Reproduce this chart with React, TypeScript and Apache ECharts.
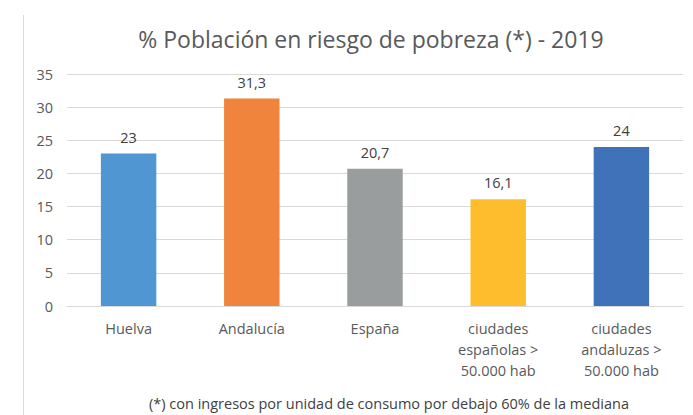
import React, { useEffect, useRef } from "react";
import * as echarts from "echarts";

const categories = [
  "Huelva",
  "Andalucía",
  "España",
  "ciudades\nespañolas >\n50.000 hab",
  "ciudades\nandaluzas >\n50.000 hab",
];
const values = [23, 31.3, 20.7, 16.1, 24];
const colors = ["#5096d2", "#f0843c", "#9a9d9d", "#fdbd2c", "#3f72b8"];
const yTicks = { min: 0, max: 35, interval: 5 };
const titleText = "% Población en riesgo de pobreza (*) - 2019";
const footnote = "(*) con ingresos por unidad de consumo por debajo 60% de la mediana";

const FONT = "'Open Sans', 'Noto Sans', sans-serif";

export default function App() {
  const ref = useRef<HTMLDivElement>(null);
  useEffect(() => {
    if (!ref.current) return;
    const chart = echarts.init(ref.current, undefined, { renderer: "svg" });
    chart.setOption({
      animation: false,
      backgroundColor: "#ffffff",
      textStyle: { fontFamily: FONT },
      title: {
        text: titleText,
        left: 366,
        top: 22,
        textAlign: "center",
        textStyle: { fontFamily: FONT, fontSize: 23, fontWeight: "normal", color: "#595959" },
      },
      grid: { left: 67, right: 10, top: 74, bottom: 109 },
      xAxis: {
        type: "category",
        data: categories,
        axisLine: { show: true, lineStyle: { color: "#d9d9d9" } },
        axisTick: { show: false },
        axisLabel: {
          interval: 0,
          color: "#595959",
          fontSize: 14.5,
          lineHeight: 21,
          margin: 12,
          fontFamily: FONT,
        },
      },
      yAxis: {
        type: "value",
        min: yTicks.min,
        max: yTicks.max,
        interval: yTicks.interval,
        axisLine: { show: false },
        axisTick: { show: false },
        splitLine: { lineStyle: { color: "#d9d9d9", width: 1 } },
        axisLabel: { color: "#595959", fontSize: 14.5, margin: 14, fontFamily: FONT },
      },
      series: [
        {
          type: "bar",
          data: values.map((v, i) => ({ value: v, itemStyle: { color: colors[i] } })),
          barWidth: "45%",
          label: {
            show: true,
            position: "top",
            distance: 9,
            color: "#404040",
            fontSize: 14.5,
            fontFamily: FONT,
            formatter: (p: any) => String(p.value).replace(".", ","),
          },
        },
      ],
      graphic: [
        {
          type: "line",
          shape: { x1: 23.5, y1: 15, x2: 23.5, y2: 415 },
          style: { stroke: "#d9d9d9", lineWidth: 1 },
        },
        {
          type: "text",
          x: 389,
          y: 403,
          style: {
            text: footnote,
            fontFamily: FONT,
            fontSize: 14.5,
            fill: "#404040",
            textAlign: "center",
            textVerticalAlign: "middle",
          },
        },
      ],
    });
    return () => chart.dispose();
  }, []);
  return <div ref={ref} style={{ width: 693, height: 415, position: "absolute", left: 0, top: 0 }} />;
}
